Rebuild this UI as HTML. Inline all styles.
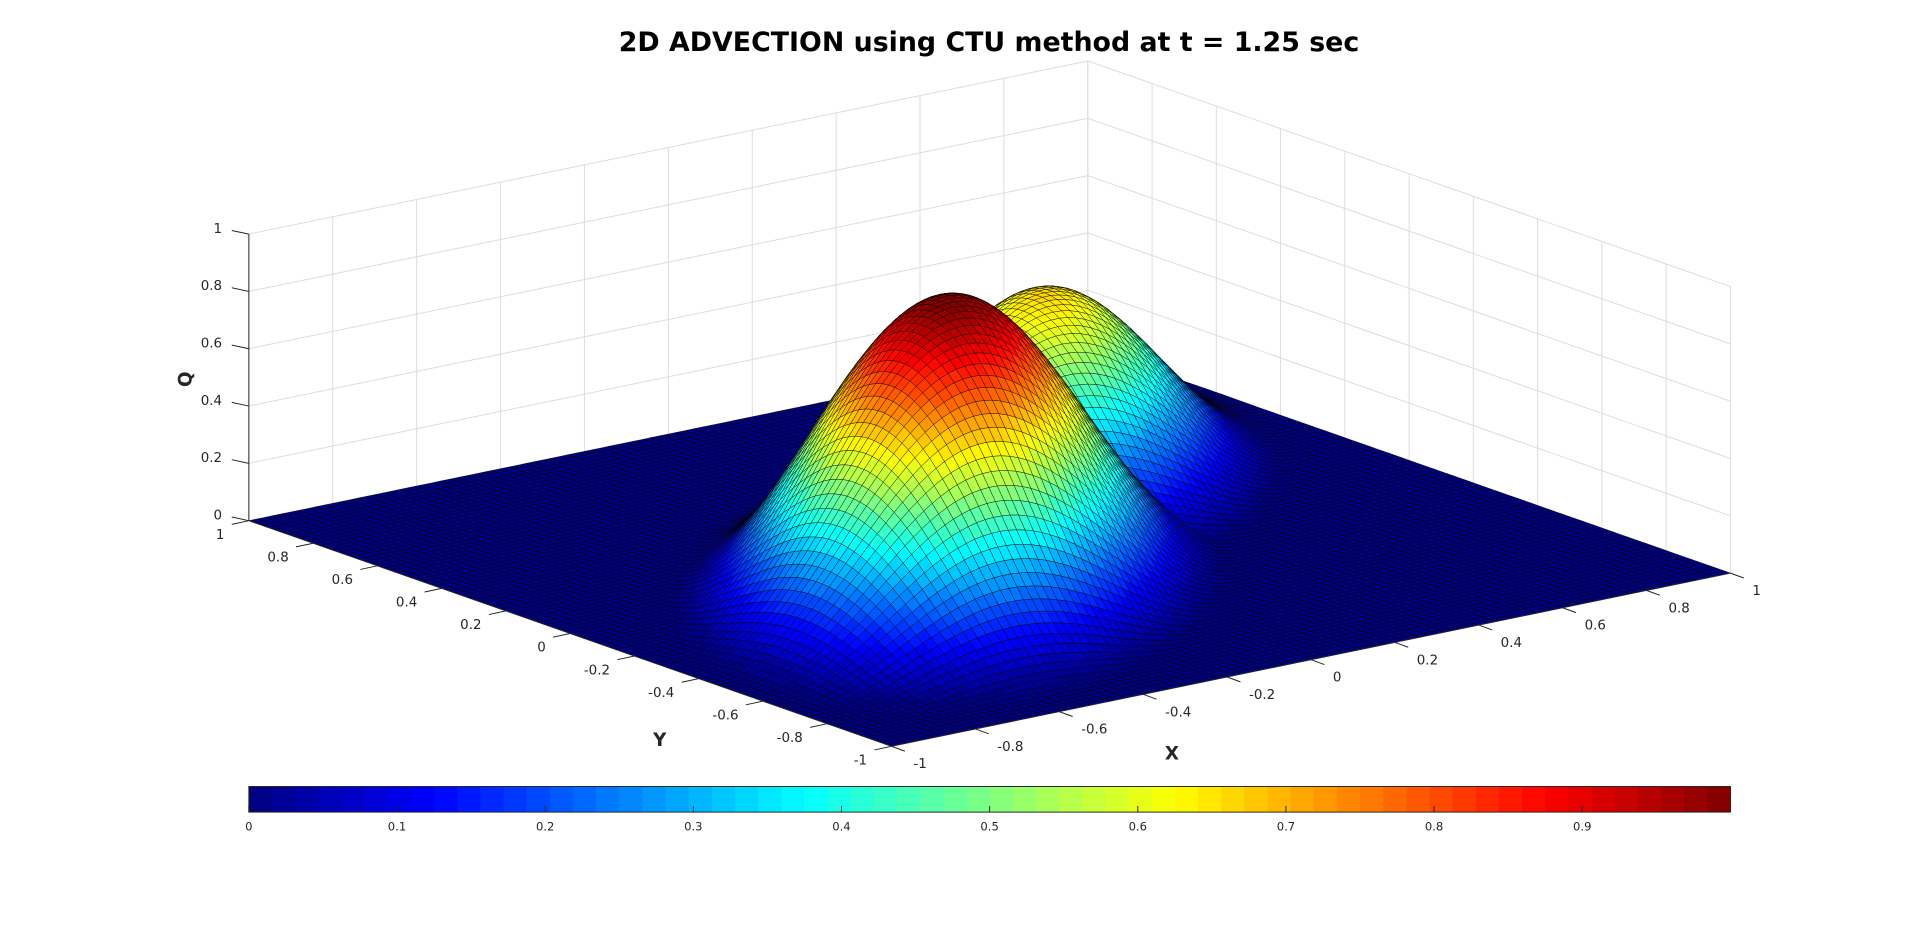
<!DOCTYPE html>
<html><head><meta charset="utf-8">
<style>
html,body{margin:0;padding:0;background:#fff;}
svg{display:block;}
text{font-family:"DejaVu Sans","Liberation Sans",sans-serif;}
</style></head>
<body>
<svg id="chart" width="1920" height="936" viewBox="0 0 1574.4 767.6" xmlns="http://www.w3.org/2000/svg">
  <rect width="1574.4" height="767.6" fill="#fff"/>
  <text x="811" y="42" text-anchor="middle" font-size="22" font-weight="bold" fill="#000">2D ADVECTION using CTU method at t = 1.25 sec</text>
  <g id="grid"></g>
  <g id="surface"></g>
  <g id="axes"></g>
  <g id="colorbar"></g>
</svg>
<script>
// ---- data ----
const humpX = [-0.22, 0.36];
const humpY = [-0.16, 0.30];
const humpHeight = [0.995, 0.66];
const humpRadiusAlong = [0.92, 0.80];
const humpRadiusPerp = [0.54, 0.47];
const xTicks = [-1,-0.8,-0.6,-0.4,-0.2,0,0.2,0.4,0.6,0.8,1];
const yTicks = [-1,-0.8,-0.6,-0.4,-0.2,0,0.2,0.4,0.6,0.8,1];
const zTicks = [0,0.2,0.4,0.6,0.8,1];
const cbTicks = [0,0.1,0.2,0.3,0.4,0.5,0.6,0.7,0.8,0.9];
const gridN = 100;

const NS = "http://www.w3.org/2000/svg";
const F = [731,612], RX = [688,-142], RY = [-527,-185], ZH = 235;
function proj(x,y,z){
  const u=(x+1)/2, v=(y+1)/2;
  return [F[0]+u*RX[0]+v*RY[0], F[1]+u*RX[1]+v*RY[1]-z*ZH];
}
function q(x,y){
  let s=0;
  for(let i=0;i<humpX.length;i++){
    const dx=x-humpX[i], dy=y-humpY[i];
    const a=(dx+dy)/Math.SQRT2, p=(dy-dx)/Math.SQRT2;
    const r=Math.sqrt((a/humpRadiusAlong[i])**2+(p/humpRadiusPerp[i])**2);
    const v=r<1?humpHeight[i]*0.5*(1+Math.cos(Math.PI*r)):0;
    s=Math.max(s,v);
  }
  return s;
}
const cmax=0.995;
function jet(t){
  t=Math.max(0,Math.min(0.99999,t/cmax));
  t=(Math.floor(t*64)+0.5)/64;
  const c=v=>Math.round(255*Math.max(0,Math.min(1,v)));
  return `rgb(${c(1.5-Math.abs(4*t-3))},${c(1.5-Math.abs(4*t-2))},${c(1.5-Math.abs(4*t-1))})`;
}
function el(tag,attrs,parent){const e=document.createElementNS(NS,tag);for(const k in attrs)e.setAttribute(k,attrs[k]);parent.appendChild(e);return e;}
function line(p1,p2,stroke,w,parent){return el('line',{x1:p1[0],y1:p1[1],x2:p2[0],y2:p2[1],stroke:stroke,'stroke-width':w},parent);}

// ---- grid walls ----
const grid=document.getElementById('grid');
const gc='#dcdcdc';
xTicks.forEach(x=>{
  const l=line(proj(x,1,0),proj(x,1,1),gc,0.8,grid);
  
  
});
yTicks.forEach(y=>{
  const l=line(proj(1,y,0),proj(1,y,1),gc,0.8,grid);
  
  
});
zTicks.forEach(z=>{
  const l1=line(proj(-1,1,z),proj(1,1,z),gc,0.8,grid);
  
  
  const l2=line(proj(1,1,z),proj(1,-1,z),gc,0.8,grid);
  
  
});

// ---- surface ----
const surf=document.getElementById('surface');
const cells=[];
const h=2/gridN;
const Z=[];
for(let i=0;i<=gridN;i++){Z.push([]);for(let j=0;j<=gridN;j++)Z[i].push(q(-1+i*h,-1+j*h));}
for(let i=0;i<gridN;i++)for(let j=0;j<gridN;j++){
  const x0=-1+i*h,y0=-1+j*h;
  const zs=[Z[i][j],Z[i+1][j],Z[i+1][j+1],Z[i][j+1]];
  const zm=(zs[0]+zs[1]+zs[2]+zs[3])/4;
  const pts=[proj(x0,y0,zs[0]),proj(x0+h,y0,zs[1]),proj(x0+h,y0+h,zs[2]),proj(x0,y0+h,zs[3])];
  const depth=0.609*(x0+h/2)+0.793*(y0+h/2);
  cells.push({pts,zm,depth});
}
cells.sort((a,b)=>b.depth-a.depth);
let html='';
for(const c of cells){
  html+=`<polygon points="${c.pts.map(p=>p[0].toFixed(1)+','+p[1].toFixed(1)).join(' ')}" fill="${jet(c.zm)}"/>`;
}
surf.setAttribute('stroke','#000');
surf.setAttribute('stroke-width','0.4');
surf.setAttribute('stroke-opacity','0.85');


surf.innerHTML=html;

// ---- axes ----
const ax=document.getElementById('axes');
line(proj(-1,1,0),proj(-1,-1,0),'#262626',0.8,ax);
line(proj(-1,-1,0),proj(1,-1,0),'#262626',0.8,ax);
line(proj(-1,1,0),proj(-1,1,1),'#262626',0.8,ax);
function label(txt,x,y,anchor,name,size){
  const t=el('text',{x:x,y:y,'text-anchor':anchor,'font-size':size||11,fill:'#262626'},ax);
  t.textContent=txt;
  
  
  return t;
}
zTicks.forEach(z=>{
  const p=proj(-1,1,z);
  line(p,[p[0]-14,p[1]-3],'#262626',0.8,ax);
  label(String(z),p[0]-22,p[1]-1,'end','z-tick-label');
});
yTicks.forEach(y=>{
  const p=proj(-1,y,0);
  line(p,[p[0]-14,p[1]+3],'#262626',0.8,ax);
  label(String(y),p[0]-20,p[1]+15,'end','y-tick-label');
});
xTicks.forEach(x=>{
  const p=proj(x,-1,0);
  line(p,[p[0]+11,p[1]+4],'#262626',0.8,ax);
  label(String(x),p[0]+18,p[1]+18,'start','x-tick-label');
});
const qt=el('text',{x:0,y:0,'text-anchor':'middle','font-size':15,'font-weight':'bold',fill:'#262626',transform:'translate(157,311) rotate(-90)'},ax);
qt.textContent='Q';


const yt=label('Y',541,612,'middle','y-axis-title',15); yt.setAttribute('font-weight','bold');
const xt=label('X',961,623,'middle','x-axis-title',15); xt.setAttribute('font-weight','bold');

// ---- colorbar ----
const cb=document.getElementById('colorbar');
const cbx0=204,cbx1=1419,cby0=645,cby1=666;
for(let k=0;k<64;k++){
  const r=el('rect',{x:cbx0+k*(cbx1-cbx0)/64,y:cby0,width:(cbx1-cbx0)/64+0.5,height:cby1-cby0,fill:jet((k+0.5)/64*cmax)},cb);
  
  
}
const border=el('rect',{x:cbx0,y:cby0,width:cbx1-cbx0,height:cby1-cby0,fill:'none',stroke:'#262626','stroke-width':0.8},cb);


cbTicks.forEach(t=>{
  const xx=cbx0+t*(cbx1-cbx0);
  const tk=line([xx,cby1],[xx,cby1-5],'#262626',0.8,cb);
  
  
  const tl=el('text',{x:xx,y:681,'text-anchor':'middle','font-size':9.5,fill:'#262626'},cb);
  tl.textContent=String(t);
  
  
});
</script>
</body></html>
